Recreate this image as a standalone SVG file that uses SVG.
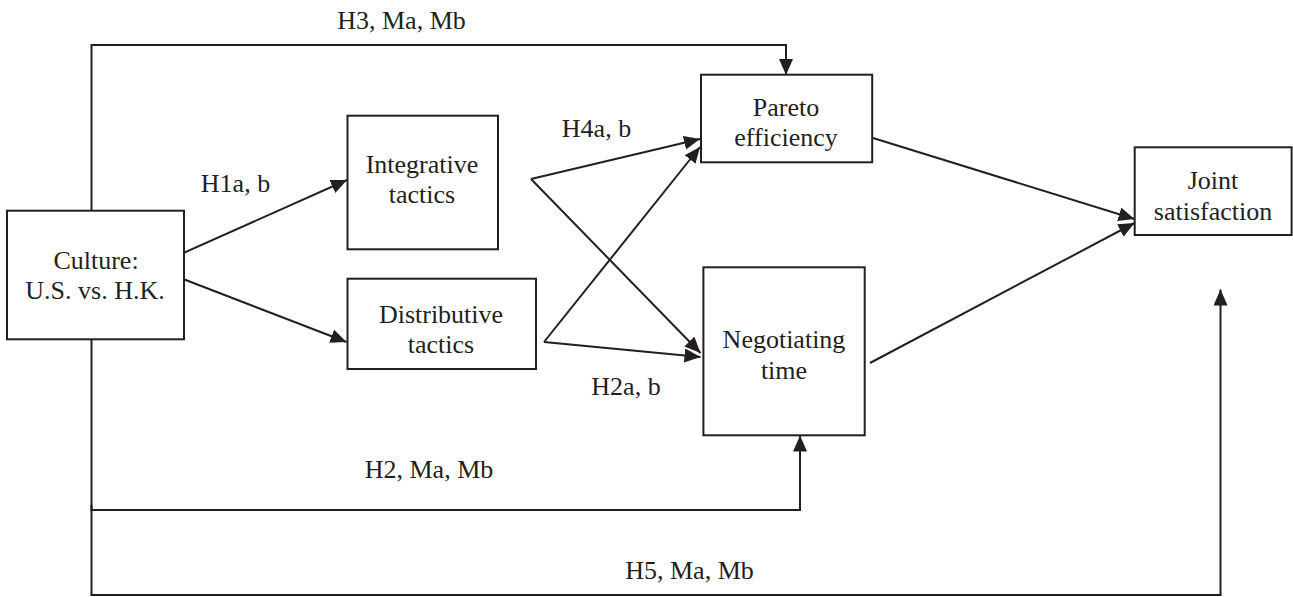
<svg xmlns="http://www.w3.org/2000/svg" width="1293" height="597" viewBox="0 0 1293 597">
<style>
.box{fill:#fff;stroke:#231f20;stroke-width:2}
text{font-family:'Liberation Serif','Times New Roman',Tinos,'DejaVu Serif',serif;font-size:26px;fill:#231f20;text-anchor:middle}
.c{fill:none;stroke:#231f20;stroke-width:2}
.a{marker-end:url(#arr)}
</style>
<defs>
<marker id="arr" markerUnits="userSpaceOnUse" markerWidth="18" markerHeight="16" refX="16" refY="7" orient="auto">
<path d="M0,0 L16,7 L0,14 Z" fill="#231f20"/>
</marker>
</defs>
<g id="connectors">
<path class="c a" d="M91.5,210.7 V45 H786 V75"/>
<path class="c a" d="M91.5,339 V510 H800 V435.5"/>
<path class="c a" d="M91.5,505 V595 H1220.5 V289.5"/>
<path class="c a" d="M152,267 L347,180"/>
<path class="c a" d="M152,267 L346.5,342"/>
<path class="c a" d="M531,179 L700,139"/>
<path class="c a" d="M531,179 L700.5,353"/>
<path class="c a" d="M544,342 L700,147"/>
<path class="c a" d="M544,342 L700.5,357"/>
<path class="c a" d="M873,138 L1134.5,219"/>
<path class="c a" d="M870,363 L1134.5,223"/>
</g>
<g id="labels">
<text x="401.5" y="29" font-family="Liberation Serif, serif">H3, Ma, Mb</text>
<text x="235.5" y="192">H1a, b</text>
<text x="596.5" y="137">H4a, b</text>
<text x="626" y="395">H2a, b</text>
<text x="429" y="478">H2, Ma, Mb</text>
<text x="689.5" y="579">H5, Ma, Mb</text>
</g>
<g id="culture">
<rect class="box" x="7" y="210.7" width="177" height="128.6"/>
<text x="96" y="269">Culture:</text>
<text x="95" y="299">U.S. vs. H.K.</text>
</g>
<g id="integrative">
<rect class="box" x="347.5" y="115.7" width="150.5" height="133.6"/>
<text x="422" y="173">Integrative</text>
<text x="422" y="203">tactics</text>
</g>
<g id="distributive">
<rect class="box" x="347.5" y="278.7" width="188.5" height="90.3"/>
<text x="441" y="322.7">Distributive</text>
<text x="441" y="353">tactics</text>
</g>
<g id="pareto">
<rect class="box" x="701" y="74.7" width="171.2" height="87.6"/>
<text x="786" y="116">Pareto</text>
<text x="786" y="146">efficiency</text>
</g>
<g id="negotiating">
<rect class="box" x="703.4" y="267.3" width="161.3" height="168"/>
<text x="784" y="348.3">Negotiating</text>
<text x="784" y="379.3">time</text>
</g>
<g id="joint">
<rect class="box" x="1134.7" y="147.3" width="156.9" height="87.7"/>
<text x="1213" y="189.3">Joint</text>
<text x="1213" y="220">satisfaction</text>
</g>
</svg>
